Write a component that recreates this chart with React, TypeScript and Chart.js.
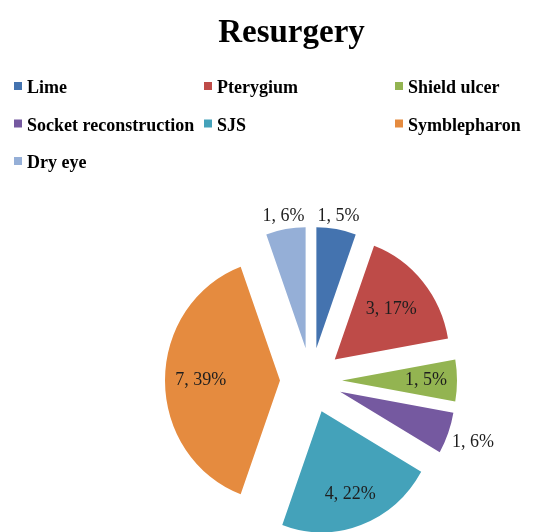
import React, { useEffect, useRef } from "react";
import { Chart, registerables } from "chart.js";

Chart.register(...registerables);

const TITLE = "Resurgery";
const categories = [
  "Lime",
  "Pterygium",
  "Shield ulcer",
  "Socket reconstruction",
  "SJS",
  "Symblepharon",
  "Dry eye",
];
const values = [1, 3, 1, 1, 4, 7, 1];
const percentLabels = ["5%", "17%", "5%", "6%", "22%", "39%", "6%"];
const colors = [
  "#4473AF",
  "#BE4B48",
  "#93B451",
  "#7559A0",
  "#44A2BA",
  "#E58B3F",
  "#95AFD7",
];

// layout (not data)
const EXPLODE = 31;
const RADIUS = 115;
const SCALE_Y = 1.053;
const labelRadiusFactor = [1.11, 0.64, 0.73, 1.23, 0.73, 0.69, 1.11];
const legendCols = [14, 204, 395];
const legendBaselines = [93, 130.5, 168];
const SERIF = "'Liberation Serif', 'DejaVu Serif', serif";

const explodePlugin = {
  id: "explodeAndDecorate",
  beforeDatasetDraw(chart: any, args: any) {
    const ctx = chart.ctx;
    const els = args.meta.data;
    if (!els.length) return false;
    const cx = els[0].x;
    const cy = els[0].y;
    ctx.save();
    ctx.translate(cx, cy);
    ctx.scale(1, SCALE_Y);
    ctx.translate(-cx, -cy);
    els.forEach((el: any) => {
      const h = (el.startAngle + el.endAngle) / 2;
      ctx.save();
      ctx.translate(Math.cos(h) * EXPLODE, Math.sin(h) * EXPLODE);
      el.draw(ctx);
      ctx.restore();
    });
    ctx.restore();
    return false;
  },
  afterDraw(chart: any) {
    const ctx = chart.ctx;
    const meta = chart.getDatasetMeta(0);
    ctx.save();
    // data labels
    ctx.font = `18px ${SERIF}`;
    ctx.fillStyle = "#1e1e1e";
    ctx.textAlign = "center";
    ctx.textBaseline = "middle";
    meta.data.forEach((el: any, i: number) => {
      const h = (el.startAngle + el.endAngle) / 2;
      const r = EXPLODE + labelRadiusFactor[i] * el.outerRadius;
      const x = el.x + Math.cos(h) * r;
      const y = el.y + Math.sin(h) * r * SCALE_Y;
      ctx.fillText(`${values[i]}, ${percentLabels[i]}`, x, y);
    });
    // title
    ctx.font = `bold 33px ${SERIF}`;
    ctx.fillStyle = "#000";
    ctx.textBaseline = "alphabetic";
    ctx.fillText(TITLE, 291.5, 42);
    // legend
    ctx.font = `bold 18px ${SERIF}`;
    ctx.textAlign = "left";
    categories.forEach((c, i) => {
      const col = i % 3;
      const row = Math.floor(i / 3);
      const x = legendCols[col];
      const y = legendBaselines[row];
      ctx.fillStyle = colors[i];
      ctx.fillRect(x, y - 11, 8, 8);
      ctx.fillStyle = "#000";
      ctx.fillText(c, x + 13, y);
    });
    ctx.restore();
  },
};

export default function App() {
  const ref = useRef<HTMLCanvasElement | null>(null);
  useEffect(() => {
    if (!ref.current) return;
    const chart = new Chart(ref.current, {
      type: "pie",
      data: {
        labels: categories,
        datasets: [
          {
            data: values,
            backgroundColor: colors,
            borderWidth: 0,
            hoverOffset: 0,
          },
        ],
      },
      options: {
        responsive: false,
        animation: false,
        radius: RADIUS,
        layout: { padding: { left: 66, right: 0, top: 229, bottom: 0 } },
        plugins: {
          legend: { display: false },
          title: { display: false },
          tooltip: { enabled: false },
        },
        events: [],
      } as any,
      plugins: [explodePlugin as any],
    });
    return () => chart.destroy();
  }, []);
  return (
    <div style={{ position: "absolute", left: 0, top: 0, width: 556, height: 532, background: "#fff" }}>
      <canvas ref={ref} width={556} height={532} style={{ display: "block" }} />
    </div>
  );
}
